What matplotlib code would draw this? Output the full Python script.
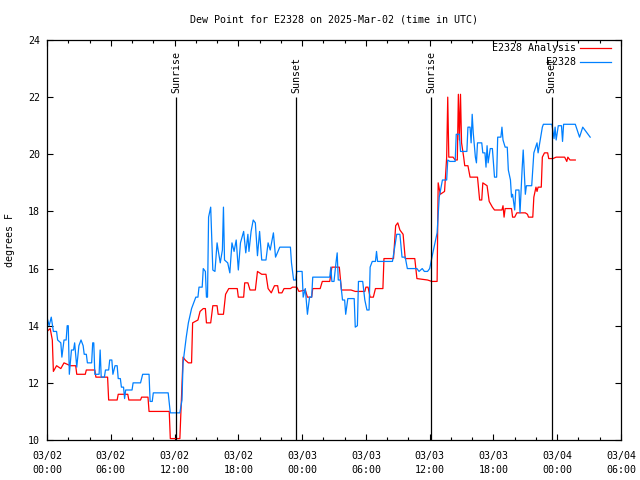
import pandas as pd
import matplotlib
matplotlib.use("Agg")
import matplotlib.pyplot as plt
import matplotlib.dates as mdates

# hours since 2025-03-02 00:00 UTC and dew point (degrees F)
analysis_hours = [0.0, 0.3, 0.5, 0.6, 0.9, 1.3, 1.6, 2.2, 2.7, 2.8, 3.6, 3.7, 4.5, 4.6, 5.7, 5.8,
                  6.6, 6.7, 7.6, 7.7, 8.8, 8.9, 9.5, 9.6, 11.5, 11.6, 12.5, 12.8, 13.0, 13.3, 13.6, 13.7,
                  14.2, 14.4, 14.7, 14.9, 15.0, 15.4, 15.6, 16.0, 16.1, 16.6, 16.8, 17.1, 17.9, 18.0,
                  18.5, 18.6, 18.9, 19.1, 19.6, 19.8, 20.2, 20.6, 20.8, 21.1, 21.4, 21.7, 21.8, 22.1,
                  22.3, 22.9, 23.1, 23.5, 23.7, 24.3, 24.5, 24.9, 25.0, 25.7, 25.9, 26.6, 26.8, 27.5,
                  27.7, 28.6, 29.0, 29.9, 30.0, 30.2, 30.4, 30.7, 30.9, 31.6, 31.7, 32.6, 32.8, 33.0,
                  33.2, 33.5, 33.7, 34.6, 34.8, 35.8, 36.2, 36.7, 36.8, 37.0, 37.4, 37.6, 37.7, 37.8,
                  38.2, 38.4, 38.6, 38.7, 38.8, 38.9, 39.0, 39.2, 39.3, 39.6, 39.8, 40.5, 40.7, 40.9,
                  41.0, 41.4, 41.6, 41.9, 42.1, 42.8, 42.9, 43.0, 43.1, 43.7, 43.8, 44.0, 44.2, 45.0,
                  45.2, 45.3, 45.7, 45.8, 46.0, 46.1, 46.2, 46.5, 46.6, 46.8, 47.1, 47.2, 47.6, 47.9,
                  48.7, 48.9, 49.0, 49.2, 49.7]
analysis_vals = [13.8, 13.9, 13.5, 12.4, 12.6, 12.5, 12.7, 12.6, 12.6, 12.3, 12.3, 12.45, 12.45, 12.2, 12.2, 11.4,
                 11.4, 11.6, 11.6, 11.4, 11.4, 11.5, 11.5, 11.0, 11.0, 10.05, 10.05, 12.9, 12.8, 12.7, 12.7, 14.1,
                 14.2, 14.5, 14.6, 14.6, 14.1, 14.1, 14.7, 14.7, 14.4, 14.4, 15.1, 15.3, 15.3, 15.0,
                 15.0, 15.5, 15.5, 15.25, 15.25, 15.9, 15.8, 15.8, 15.3, 15.15, 15.4, 15.4, 15.15, 15.15,
                 15.3, 15.3, 15.35, 15.35, 15.2, 15.25, 15.0, 15.0, 15.3, 15.3, 15.55, 15.55, 16.05, 16.05,
                 15.25, 15.25, 15.2, 15.2, 15.35, 15.35, 15.0, 15.0, 15.3, 15.3, 16.35, 16.35, 17.5, 17.6,
                 17.35, 17.2, 16.35, 16.35, 15.65, 15.6, 15.55, 15.55, 19.0, 18.6, 18.7, 19.9, 22.0, 19.9,
                 19.9, 19.8, 19.8, 22.1, 20.5, 22.1, 20.4, 19.9, 19.6, 19.6, 19.2, 19.2, 18.4, 18.4,
                 19.0, 18.9, 18.35, 18.15, 18.05, 18.05, 18.2, 17.8, 18.1, 18.1, 17.8, 17.8, 17.95, 17.95,
                 17.9, 17.8, 17.8, 18.5, 18.85, 18.7, 18.85, 18.85, 19.9, 20.05, 20.05, 19.85, 19.85, 19.9,
                 19.9, 19.75, 19.9, 19.8, 19.8]

obs_hours = [0.0, 0.2, 0.4, 0.6, 0.9, 1.0, 1.3, 1.4, 1.6, 1.8, 1.9, 2.0, 2.1, 2.3, 2.5, 2.6,
             2.8, 3.0, 3.2, 3.4, 3.5, 3.7, 3.8, 4.2, 4.3, 4.4, 4.5, 4.9, 5.0, 5.1, 5.4, 5.5,
             5.8, 5.9, 6.1, 6.2, 6.4, 6.6, 6.7, 6.9, 7.0, 7.2, 7.3, 7.4, 8.0, 8.1, 8.8, 9.0,
             9.6, 9.7, 9.9, 10.0, 11.4, 11.6, 12.5, 12.7, 12.8, 13.1, 13.3, 13.6, 13.8, 14.0,
             14.2, 14.3, 14.6, 14.7, 14.9, 15.0, 15.1, 15.2, 15.4, 15.5, 15.6, 15.8, 16.0, 16.1,
             16.3, 16.5, 16.6, 16.7, 17.0, 17.2, 17.4, 17.6, 17.8, 18.0, 18.2, 18.5, 18.7, 18.9,
             19.0, 19.2, 19.4, 19.6, 19.8, 20.0, 20.2, 20.6, 20.8, 21.0, 21.3, 21.5, 21.9, 22.9,
             23.0, 23.2, 23.4, 23.5, 24.0, 24.1, 24.3, 24.5, 24.7, 24.9, 25.0, 26.6, 26.7, 26.8,
             27.0, 27.2, 27.3, 27.4, 27.6, 27.8, 28.0, 28.1, 28.3, 28.9, 29.0, 29.2, 29.3, 29.7,
             29.9, 30.1, 30.3, 30.4, 30.6, 30.9, 31.0, 31.1, 32.5, 32.9, 33.2, 33.4, 33.7, 33.9,
             34.8, 35.0, 35.3, 35.5, 35.8, 36.0, 36.3, 36.7, 36.9, 37.2, 37.6, 37.7, 37.9, 38.4,
             38.5, 38.8, 38.9, 39.5, 39.6, 39.8, 39.9, 40.0, 40.1, 40.3, 40.4, 40.5, 40.9, 41.0,
             41.2, 41.3, 41.4, 41.5, 41.7, 41.9, 42.1, 42.3, 42.4, 42.7, 42.8, 42.9, 43.1, 43.3,
             43.4, 43.6, 43.7, 43.8, 44.0, 44.1, 44.4, 44.5, 44.7, 44.8, 45.0, 45.1, 45.6, 45.7,
             45.8, 46.1, 46.2, 46.4, 46.6, 46.7, 47.5, 47.7, 47.8, 47.9, 48.1, 48.4, 48.5, 48.6,
             49.7, 50.1, 50.4, 51.1]
obs_vals = [14.3, 14.0, 14.3, 13.8, 13.8, 13.5, 13.4, 12.9, 13.5, 13.5, 14.0, 14.0, 12.3, 13.15, 13.15, 13.4,
            12.55, 13.3, 13.5, 13.3, 13.0, 13.0, 12.7, 12.7, 13.4, 13.4, 12.3, 12.3, 13.15, 12.2, 12.2, 12.45,
            12.45, 12.8, 12.8, 12.3, 12.6, 12.6, 12.15, 12.15, 11.85, 11.85, 11.45, 11.75, 11.75, 12.0, 12.0, 12.3,
            12.3, 11.35, 11.35, 11.65, 11.65, 10.95, 10.95, 11.4, 12.7, 13.6, 14.1, 14.6, 14.8, 15.0,
            15.0, 15.35, 15.35, 16.0, 15.9, 15.0, 15.0, 17.8, 18.15, 17.0, 15.95, 15.9, 16.9, 16.65,
            16.2, 16.65, 18.15, 16.3, 16.2, 15.85, 16.9, 16.6, 17.0, 15.95, 16.9, 17.3, 16.55, 17.2,
            16.6, 17.3, 17.7, 17.6, 16.45, 17.3, 16.3, 16.3, 16.9, 16.65, 17.25, 16.4, 16.75, 16.75,
            16.2, 15.6, 15.6, 15.9, 15.9, 15.0, 15.3, 14.4, 15.0, 15.0, 15.7, 15.7, 16.05, 15.55,
            15.55, 16.25, 16.55, 15.6, 15.6, 14.9, 14.9, 14.4, 14.95, 14.95, 13.95, 14.0, 15.55, 15.55,
            14.9, 14.55, 14.55, 16.05, 16.25, 16.25, 16.6, 16.25, 16.25, 17.2, 17.2, 16.4, 16.4, 16.0,
            16.0, 15.9, 16.0, 15.9, 15.9, 16.0, 16.55, 17.25, 18.5, 19.1, 19.1, 19.8, 19.75, 19.75,
            20.7, 20.7, 20.1, 20.1, 20.95, 20.95, 20.4, 21.4, 20.75, 19.9, 19.7, 20.4, 20.4, 20.05,
            20.05, 19.55, 20.3, 19.7, 20.2, 20.2, 19.2, 19.2, 20.6, 20.6, 20.95, 20.5, 20.25, 20.25,
            19.45, 19.1, 18.5, 18.6, 18.05, 18.75, 18.75, 17.95, 19.5, 20.15, 18.6, 18.9, 18.9, 19.45,
            20.05, 20.4, 20.05, 20.5, 20.95, 21.05, 21.05, 20.55, 20.95, 20.5, 21.0, 21.0, 20.45, 21.05,
            21.05, 20.6, 20.95, 20.6]

sun_hours = [12.14, 23.47, 36.12, 47.48]
sun_labels = ["Sunrise", "Sunset", "Sunrise", "Sunset"]

start = pd.Timestamp("2025-03-02 00:00")
t_analysis = start + pd.to_timedelta(analysis_hours, unit="h")
t_obs = start + pd.to_timedelta(obs_hours, unit="h")
t_sun = start + pd.to_timedelta(sun_hours, unit="h")

plt.rcParams["font.family"] = "DejaVu Sans Mono"
plt.rcParams["font.size"] = 7.2

fig = plt.figure(figsize=(6.4, 4.8), dpi=100)
ax = fig.add_axes([47 / 640, 40 / 480, 574 / 640, 400 / 480])

ax.plot(t_analysis, analysis_vals, color="#ff0000", lw=0.9)
ax.plot(t_obs, obs_vals, color="#0080ff", lw=0.9)

ax.vlines(t_sun, 10, 22, color="black", lw=0.9)
for t, lab in zip(t_sun, sun_labels):
    ax.text(t, 22.15, lab, rotation=90, ha="center", va="bottom")

ax.set_xlim(start, start + pd.Timedelta(hours=54))
ax.set_ylim(10, 24)
ax.set_yticks(range(10, 25, 2))
ax.xaxis.set_major_locator(mdates.HourLocator(byhour=range(0, 24, 6)))
ax.xaxis.set_minor_locator(mdates.HourLocator(byhour=range(0, 24, 2)))
ax.xaxis.set_major_formatter(mdates.DateFormatter("%m/%d\n%H:%M"))
ax.tick_params(which="both", direction="in", top=True, right=True, width=0.8)
ax.tick_params(which="major", length=4)
ax.tick_params(which="minor", length=2.5)
ax.tick_params(axis="x", pad=8)
ax.tick_params(axis="y", pad=5)
for sp in ax.spines.values():
    sp.set_linewidth(0.9)

# legend drawn gnuplot style: right-aligned text, sample line to the right
leg_items = [("E2328 Analysis", "#ff0000"), ("E2328", "#0080ff")]
for i, (name, col) in enumerate(leg_items):
    y = 0.98 - i * 0.034
    ax.text(0.921, y, name, transform=ax.transAxes, ha="right", va="center")
    ax.plot([0.929, 0.983], [y, y], transform=ax.transAxes, color=col, lw=0.9)

fig.text(334 / 640, 1 - 19 / 480, "Dew Point for E2328 on 2025-Mar-02 (time in UTC)", ha="center", va="center")
fig.text(10 / 640, 0.5, "degrees F", rotation=90, ha="center", va="center")

fig.canvas.draw()
for lbl in ax.get_xticklabels():
    lbl.set_linespacing(1.5)

fig.savefig("out.png", dpi=100)
